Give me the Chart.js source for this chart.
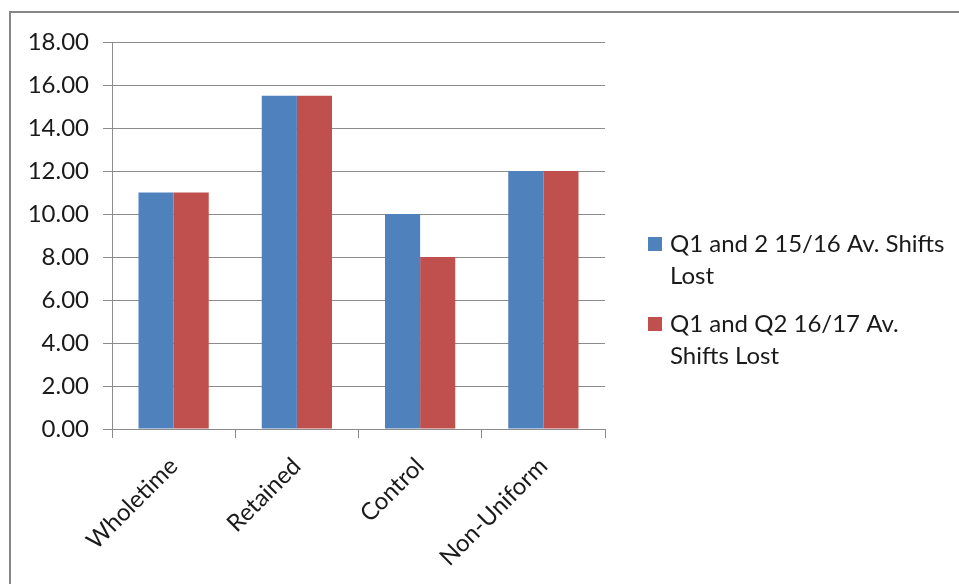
<!DOCTYPE html>
<html>
<head>
<meta charset="utf-8">
<script src="https://cdn.jsdelivr.net/npm/chart.js@4/dist/chart.umd.min.js"></script>
<style>
  html, body { margin: 0; padding: 0; background: #fff; }
  #wrap { width: 959px; height: 584px; position: relative; }
</style>
</head>
<body>
<div id="wrap"><canvas id="c" width="959" height="584"></canvas></div>
<script>
const categories = ['Wholetime', 'Retained', 'Control', 'Non-Uniform'];
const shifts1516 = [11, 15.5, 10, 12];
const shifts1617 = [11, 15.5, 8, 12];
const seriesNames = [
  ['Q1 and 2 15/16 Av. Shifts', 'Lost'],
  ['Q1 and Q2 16/17 Av.', 'Shifts Lost']
];
const yTicks = [0, 2, 4, 6, 8, 10, 12, 14, 16, 18];

const FONT = 'Lato, "Open Sans", sans-serif';
const GRID = '#8c8c8c';
const BLUE = '#4F81BD';
const RED = '#C0504D';
const TEXT = '#1a1a1a';

// Outer frame of the chart object, cut by the page edges
const framePlugin = {
  id: 'frame',
  beforeDraw(chart) {
    const ctx = chart.ctx;
    ctx.save();
    ctx.fillStyle = '#fff';
    ctx.fillRect(0, 0, chart.width, chart.height);
    ctx.strokeStyle = '#878787';
    ctx.lineWidth = 2;
    ctx.strokeRect(10, 12, chart.width + 20, chart.height + 20);
    ctx.restore();
  }
};

// Two-line legend entries on the right of the plot
const sideLegend = {
  id: 'sideLegend',
  afterDraw(chart) {
    const ctx = chart.ctx;
    const x = chart.chartArea.right + 43;
    let y = 252;
    ctx.save();
    ctx.font = '24px ' + FONT;
    ctx.textBaseline = 'alphabetic';
    chart.data.datasets.forEach((ds, i) => {
      ctx.fillStyle = ds.backgroundColor;
      ctx.fillRect(x, y - 15, 14, 14);
      ctx.fillStyle = TEXT;
      seriesNames[i].forEach((line, j) => {
        ctx.fillText(line, x + 22, y + j * 32);
      });
      y += 80;
    });
    ctx.restore();
  }
};

new Chart(document.getElementById('c'), {
  type: 'bar',
  data: {
    labels: categories,
    datasets: [
      { label: seriesNames[0].join(' '), data: shifts1516, backgroundColor: BLUE },
      { label: seriesNames[1].join(' '), data: shifts1617, backgroundColor: RED }
    ]
  },
  options: {
    responsive: false,
    animation: false,
    devicePixelRatio: 1,
    layout: { padding: { top: 42, right: 354, left: 0, bottom: 0 } },
    plugins: {
      legend: { display: false },
      tooltip: { enabled: false }
    },
    datasets: {
      bar: { barPercentage: 1, categoryPercentage: 0.57 }
    },
    scales: {
      x: {
        offset: true,
        border: { display: true, color: GRID, width: 1 },
        grid: { offset: true, drawOnChartArea: false, drawTicks: true, tickLength: 9, color: GRID },
        ticks: {
          minRotation: 45, maxRotation: 45, padding: 14,
          color: TEXT, font: { family: FONT, size: 24 }
        },
        afterFit(scale) { scale.height = 155; }
      },
      y: {
        min: 0, max: 18,
        afterBuildTicks(scale) { scale.ticks = yTicks.map(v => ({ value: v })); },
        border: { display: true, color: GRID, width: 1 },
        grid: { color: GRID, lineWidth: 1, tickLength: 9, drawTicks: true },
        ticks: {
          padding: 14, color: TEXT,
          font: { family: FONT, size: 24 },
          callback: v => Number(v).toFixed(2)
        },
        afterFit(scale) { scale.width = 112; }
      }
    }
  },
  plugins: [framePlugin, sideLegend]
});
</script>
</body>
</html>
